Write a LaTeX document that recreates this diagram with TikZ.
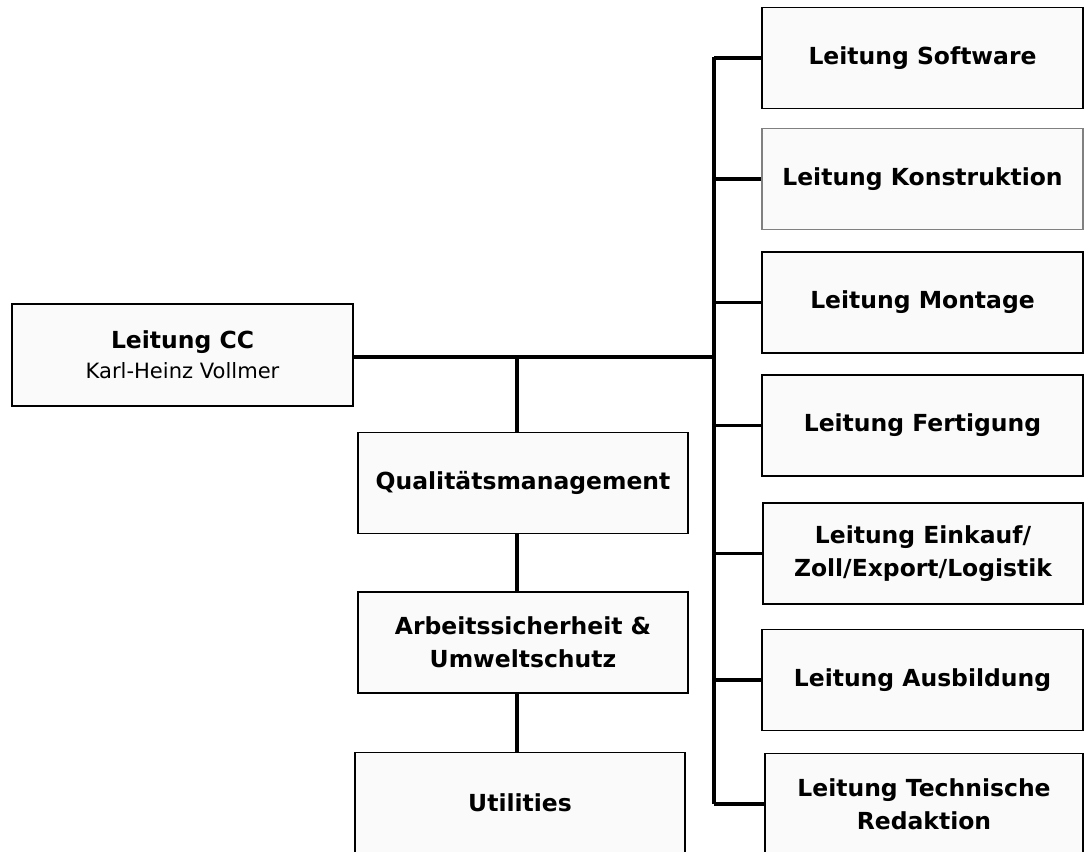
\documentclass[tikz,border=0pt]{standalone}
\usepackage{fontspec}
\setmainfont{DejaVu Sans}
\usetikzlibrary{positioning,calc}
\definecolor{boxfill}{HTML}{FAFAFA}
\begin{document}
\begin{tikzpicture}[x=0.75pt, y=-0.75pt,
  unit/.style={draw=black, line width=1.1pt, fill=boxfill, align=center, inner sep=0pt,
    font=\bfseries\fontsize{17.6}{24.5}\selectfont},
  lead/.style={unit, minimum width=240.75pt, minimum height=76pt},
  staff/.style={unit, minimum width=247.5pt, minimum height=76pt},
  link/.style={line width=2.4pt}]
  \useasboundingbox (0,0) rectangle (1084,851);
  \clip (0,0) rectangle (1084,851);
  % head
  \node[unit, minimum width=255.75pt, minimum height=76.5pt] (cc) at (182.5,355)
    {Leitung CC\\[-2pt]{\mdseries\fontsize{15.8}{20}\selectfont Karl-Heinz Vollmer}};
  % staff column
  \node[staff] (qm) at (523,483) {Qualitätsmanagement};
  \node[staff] (as) at (523,642.5) {Arbeitssicherheit \&\\Umweltschutz};
  \node[staff] (ut) at (520,803) {Utilities};
  % line column
  \node[lead] (sw) at (922.5,58) {Leitung Software};
  \node[lead, draw=gray, line width=0.8pt] (ko) at (922.5,179) {Leitung Konstruktion};
  \node[lead] (mo) at (922.5,302.5) {Leitung Montage};
  \node[lead] (fe) at (922.5,425.5) {Leitung Fertigung};
  \node[lead, minimum width=240pt] (ek) at (923,553.5) {Leitung Einkauf/\\Zoll/Export/Logistik};
  \node[lead] (ab) at (922.5,680) {Leitung Ausbildung};
  \node[lead, minimum width=238.5pt] (tr) at (924,804) {Leitung Technische\\Redaktion};
  % connectors
  \coordinate (bustop) at (714,57);
  \coordinate (busbot) at (714,804);
  \coordinate (j1) at (517,357);
  \draw[link] (bustop) -- (busbot);
  \draw[link] (cc.east |- j1) -- (j1 -| bustop);
  \draw[link] (j1) -- (j1 |- qm.north);
  \draw[link] (qm.south -| j1) -- (as.north -| j1);
  \draw[link] (as.south -| j1) -- (ut.north -| j1);
  \foreach \n in {sw,ko,mo,fe,ek,ab,tr}
    \draw[link] (\n.west -| bustop) -- (\n.west);
\end{tikzpicture}
\end{document}
